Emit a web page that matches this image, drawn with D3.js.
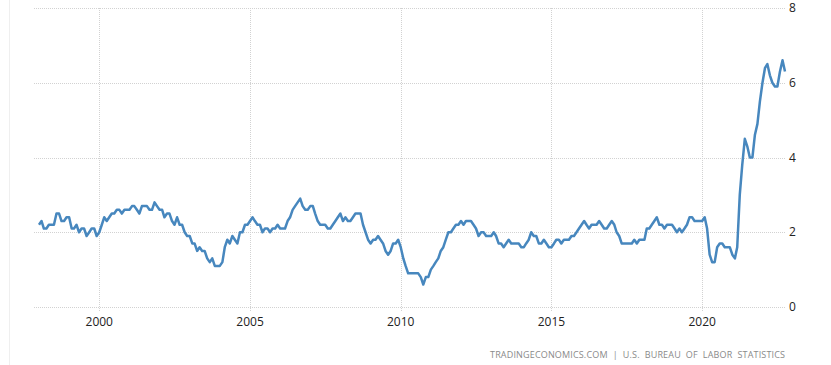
<!DOCTYPE html>
<html>
<head>
<meta charset="utf-8">
<script src="https://cdn.jsdelivr.net/npm/d3@7"></script>
<style>
  body { margin: 0; background: #fff; }
  svg { display: block; font-family: "Open Sans", sans-serif; }
  .grid line { stroke: #d2d2d2; stroke-dasharray: 1 1; }
  .tick-label { fill: #222; font-size: 12px; }
  .source { fill: #8a8a8a; font-size: 9px; }
</style>
</head>
<body>
<svg id="chart" width="831" height="365"></svg>
<script>
const startYear = 1998, startMonth = 0;

// core CPI yoy, monthly from Jan 1998
const values = [
  2.2, 2.3, 2.1, 2.1, 2.2, 2.2, 2.2, 2.5, 2.5, 2.3, 2.3, 2.4,
  2.4, 2.1, 2.1, 2.2, 2.0, 2.1, 2.1, 1.9, 2.0, 2.1, 2.1, 1.9,
  2.0, 2.2, 2.4, 2.3, 2.4, 2.5, 2.5, 2.6, 2.6, 2.5, 2.6, 2.6,
  2.6, 2.7, 2.7, 2.6, 2.5, 2.7, 2.7, 2.7, 2.6, 2.6, 2.8, 2.7,
  2.6, 2.6, 2.4, 2.5, 2.5, 2.3, 2.2, 2.4, 2.2, 2.2, 2.0, 1.9,
  1.9, 1.7, 1.7, 1.5, 1.6, 1.5, 1.5, 1.3, 1.2, 1.3, 1.1, 1.1,
  1.1, 1.2, 1.6, 1.8, 1.7, 1.9, 1.8, 1.7, 2.0, 2.0, 2.2, 2.2,
  2.3, 2.4, 2.3, 2.2, 2.2, 2.0, 2.1, 2.1, 2.0, 2.1, 2.1, 2.2,
  2.1, 2.1, 2.1, 2.3, 2.4, 2.6, 2.7, 2.8, 2.9, 2.7, 2.6, 2.6,
  2.7, 2.7, 2.5, 2.3, 2.2, 2.2, 2.2, 2.1, 2.1, 2.2, 2.3, 2.4,
  2.5, 2.3, 2.4, 2.3, 2.3, 2.4, 2.5, 2.5, 2.5, 2.2, 2.0, 1.8,
  1.7, 1.8, 1.8, 1.9, 1.8, 1.7, 1.5, 1.4, 1.5, 1.7, 1.7, 1.8,
  1.6, 1.3, 1.1, 0.9, 0.9, 0.9, 0.9, 0.9, 0.8, 0.6, 0.8, 0.8,
  1.0, 1.1, 1.2, 1.3, 1.5, 1.6, 1.8, 2.0, 2.0, 2.1, 2.2, 2.2,
  2.3, 2.2, 2.3, 2.3, 2.3, 2.2, 2.1, 1.9, 2.0, 2.0, 1.9, 1.9,
  1.9, 2.0, 1.9, 1.7, 1.7, 1.6, 1.7, 1.8, 1.7, 1.7, 1.7, 1.7,
  1.6, 1.6, 1.7, 1.8, 2.0, 1.9, 1.9, 1.7, 1.7, 1.8, 1.7, 1.6,
  1.6, 1.7, 1.8, 1.8, 1.7, 1.8, 1.8, 1.8, 1.9, 1.9, 2.0, 2.1,
  2.2, 2.3, 2.2, 2.1, 2.2, 2.2, 2.2, 2.3, 2.2, 2.1, 2.1, 2.2,
  2.3, 2.2, 2.0, 1.9, 1.7, 1.7, 1.7, 1.7, 1.7, 1.8, 1.7, 1.8,
  1.8, 1.8, 2.1, 2.1, 2.2, 2.3, 2.4, 2.2, 2.2, 2.1, 2.2, 2.2,
  2.2, 2.1, 2.0, 2.1, 2.0, 2.1, 2.2, 2.4, 2.4, 2.3, 2.3, 2.3,
  2.3, 2.4, 2.1, 1.4, 1.2, 1.2, 1.6, 1.7, 1.7, 1.6, 1.6, 1.6,
  1.4, 1.3, 1.6, 3.0, 3.8, 4.5, 4.3, 4.0, 4.0, 4.6, 4.9, 5.5,
  6.0, 6.4, 6.5, 6.2, 6.0, 5.9, 5.9, 6.3, 6.6, 6.3
];

const xTicks = [2000, 2005, 2010, 2015, 2020];
const yTicks = [0, 2, 4, 6, 8];
const sourceText = "TRADINGECONOMICS.COM  |  U.S.  BUREAU  OF  LABOR  STATISTICS";

const data = values.map((v, i) => ({ date: new Date(startYear, startMonth + i, 1), value: v }));

const svg = d3.select("#chart");

const x = d3.scaleTime()
    .domain(d3.extent(data, d => d.date))
    .range([39, 785]);

const y = d3.scaleLinear()
    .domain([0, 8])
    .range([307, 8]);

// faint left frame line
svg.append("line")
    .attr("x1", 9.5).attr("x2", 9.5)
    .attr("y1", 0).attr("y2", 365)
    .attr("stroke", "#efefef");

// horizontal grid
svg.append("g")
    .attr("class", "grid")
    .selectAll("line")
    .data(yTicks)
    .enter()
    .append("line")
    .attr("x1", 34)
    .attr("x2", 786)
    .attr("y1", d => Math.round(y(d)) + 0.5)
    .attr("y2", d => Math.round(y(d)) + 0.5);

// vertical grid
svg.append("g")
    .attr("class", "grid")
    .selectAll("line")
    .data(xTicks)
    .enter()
    .append("line")
    .attr("x1", d => Math.round(x(new Date(d, 0, 1))) + 0.5)
    .attr("x2", d => Math.round(x(new Date(d, 0, 1))) + 0.5)
    .attr("y1", 8)
    .attr("y2", 312);

// x labels
svg.append("g")
    .selectAll("text")
    .data(xTicks)
    .enter()
    .append("text")
    .attr("class", "tick-label")
    .attr("text-anchor", "middle")
    .attr("x", d => x(new Date(d, 0, 1)))
    .attr("y", 326)
    .text(d => d);

// y labels on the right
svg.append("g")
    .selectAll("text")
    .data(yTicks)
    .enter()
    .append("text")
    .attr("class", "tick-label")
    .attr("x", 789)
    .attr("y", d => y(d) + 4)
    .text(d => d);

const line = d3.line()
    .x(d => x(d.date))
    .y(d => y(d.value));

svg.append("path")
    .datum(data)
    .attr("fill", "none")
    .attr("stroke", "#4787be")
    .attr("stroke-width", 2.5)
    .attr("stroke-linejoin", "round")
    .attr("d", line);

svg.append("text")
    .attr("class", "source")
    .attr("x", 490)
    .attr("y", 358)
    .attr("textLength", 295)
    .attr("lengthAdjust", "spacing")
    .style("white-space", "pre")
    .text(sourceText);
</script>
</body>
</html>
